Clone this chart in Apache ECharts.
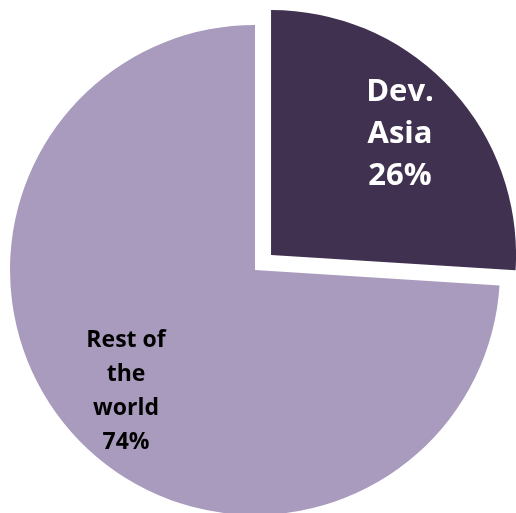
<!DOCTYPE html>
<html>
<head>
<meta charset="utf-8">
<script src="https://cdn.jsdelivr.net/npm/echarts@6/dist/echarts.min.js"></script>
<style>html,body{margin:0;padding:0;background:#fff;}#c{width:516px;height:513px;}</style>
</head>
<body>
<div id="c"></div>
<script>
var categories = ['Dev.\nAsia', 'Rest of\nthe\nworld'];
var values = [26, 74];
var colors = ['#413151', '#A99BBD'];
var labelColors = ['#ffffff', '#000000'];
var labelSizes = [31, 23];
var lineHeights = [42, 34];

var CX = 255, CY = 270, R = 245;

var chart = echarts.init(document.getElementById('c'));
var data = categories.map(function (name, i) {
  return {
    name: name,
    value: values[i],
    selected: i === 0,
    itemStyle: { color: colors[i] },
    label: { color: labelColors[i], fontSize: labelSizes[i], lineHeight: lineHeights[i] },
    select: { itemStyle: { color: colors[i] }, label: { color: labelColors[i] } },
    emphasis: { disabled: true }
  };
});
chart.setOption({
  animation: false,
  series: [{
    type: 'pie',
    center: [CX, CY],
    radius: [0, R],
    startAngle: 90,
    clockwise: true,
    selectedMode: 'single',
    selectedOffset: 22,
    avoidLabelOverlap: false,
    label: {
      show: true,
      position: 'inside',
      fontFamily: 'Open Sans',
      fontWeight: 'bold',
      align: 'center',
      formatter: function (p) { return p.name + '\n' + Math.round(p.percent) + '%'; }
    },
    labelLine: { show: false },
    labelLayout: function (p) {
      var lx = p.labelRect.x + p.labelRect.width / 2;
      var ly = p.labelRect.y + p.labelRect.height / 2;
      var vx = lx - CX, vy = ly - CY;
      var d = Math.sqrt(vx * vx + vy * vy) || 1;
      var extra = 0.21 * R;
      return { dx: vx / d * extra, dy: vy / d * extra };
    },
    data: data
  }]
});
</script>
</body>
</html>
